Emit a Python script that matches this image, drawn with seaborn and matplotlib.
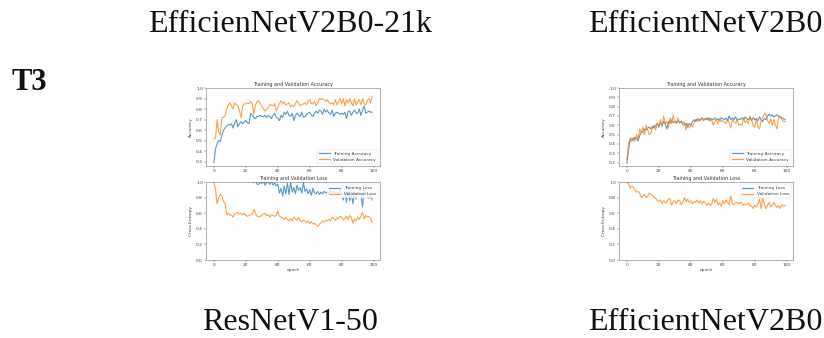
import numpy as np
import pandas as pd
import matplotlib
matplotlib.use("Agg")
import matplotlib.pyplot as plt
import seaborn as sns

# column headers / footers of the comparison table
top_labels = ["EfficienNetV2B0-21k", "EfficientNetV2B0"]
bottom_labels = ["ResNetV1-50", "EfficientNetV2B0"]
row_label = "T3"

epochs = list(range(100))

# left panel (ResNetV1-50)
left_train_acc = [
    0.29, 0.42, 0.47, 0.50, 0.49, 0.55, 0.60, 0.62, 0.64, 0.65,
    0.65, 0.66, 0.62, 0.67, 0.70, 0.63, 0.66, 0.68, 0.66, 0.68,
    0.69, 0.67, 0.66, 0.76, 0.74, 0.72, 0.71, 0.73, 0.73, 0.74,
    0.73, 0.73, 0.74, 0.72, 0.74, 0.73, 0.71, 0.74, 0.76, 0.72,
    0.71, 0.69, 0.74, 0.72, 0.77, 0.75, 0.78, 0.74, 0.73, 0.76,
    0.69, 0.74, 0.76, 0.74, 0.73, 0.77, 0.72, 0.73, 0.75, 0.76,
    0.77, 0.74, 0.73, 0.76, 0.78, 0.76, 0.79, 0.78, 0.75, 0.80,
    0.77, 0.79, 0.76, 0.75, 0.79, 0.73, 0.76, 0.77, 0.76, 0.75,
    0.76, 0.75, 0.77, 0.71, 0.78, 0.78, 0.74, 0.77, 0.79, 0.76,
    0.76, 0.80, 0.74, 0.79, 0.83, 0.76, 0.77, 0.78, 0.77, 0.77,
]
left_val_acc = [
    0.52, 0.52, 0.70, 0.58, 0.55, 0.72, 0.72, 0.74, 0.80, 0.84,
    0.86, 0.83, 0.80, 0.86, 0.84, 0.83, 0.78, 0.72, 0.83, 0.85,
    0.85, 0.86, 0.85, 0.87, 0.85, 0.75, 0.84, 0.87, 0.88, 0.85,
    0.83, 0.80, 0.78, 0.80, 0.81, 0.84, 0.84, 0.83, 0.85, 0.78,
    0.82, 0.85, 0.88, 0.85, 0.87, 0.84, 0.85, 0.86, 0.82, 0.84,
    0.82, 0.85, 0.88, 0.86, 0.83, 0.84, 0.85, 0.86, 0.84, 0.88,
    0.89, 0.85, 0.85, 0.87, 0.83, 0.86, 0.90, 0.89, 0.90, 0.89,
    0.87, 0.89, 0.86, 0.85, 0.86, 0.84, 0.89, 0.84, 0.87, 0.90,
    0.85, 0.90, 0.83, 0.89, 0.86, 0.90, 0.86, 0.83, 0.90, 0.84,
    0.87, 0.89, 0.84, 0.90, 0.85, 0.84, 0.88, 0.90, 0.86, 0.92,
]
left_train_loss = [
    1.60, 1.45, 1.38, 1.32, 1.28, 1.25, 1.22, 1.20, 1.18, 1.16,
    1.15, 1.14, 1.12, 1.12, 1.10, 1.10, 1.09, 1.08, 1.08, 1.07,
    1.06, 1.06, 1.05, 1.03, 1.04, 0.99, 1.02, 0.97, 0.97, 1.00,
    0.98, 1.01, 0.96, 0.99, 1.00, 0.97, 1.01, 0.96, 0.99, 0.95,
    0.97, 0.86, 0.92, 0.82, 0.95, 0.85, 0.99, 0.84, 1.00, 0.87,
    0.93, 0.85, 0.96, 0.89, 0.93, 0.86, 0.99, 0.88, 0.91, 0.85,
    0.90, 0.83, 0.92, 0.86, 0.85, 0.88, 0.84, 0.87, 0.85, 0.88,
    0.86, 0.87, 0.85, 0.89, 0.86, 0.88, 0.85, 0.87, 0.84, 0.90,
    0.86, 0.77, 0.87, 0.74, 0.91, 0.76, 0.86, 0.72, 0.88, 0.78,
    0.86, 0.83, 0.86, 0.68, 0.90, 0.85, 0.82, 0.79, 0.84, 0.77,
]
left_val_loss = [
    1.00, 0.90, 0.72, 0.80, 0.84, 0.82, 0.75, 0.72, 0.58, 0.60,
    0.58, 0.57, 0.55, 0.59, 0.60, 0.61, 0.59, 0.60, 0.58, 0.60,
    0.57, 0.56, 0.57, 0.58, 0.59, 0.65, 0.60, 0.56, 0.55, 0.56,
    0.57, 0.59, 0.60, 0.57, 0.58, 0.55, 0.58, 0.57, 0.56, 0.57,
    0.63, 0.56, 0.55, 0.54, 0.52, 0.54, 0.52, 0.50, 0.53, 0.50,
    0.55, 0.53, 0.51, 0.55, 0.50, 0.49, 0.51, 0.50, 0.48, 0.50,
    0.47, 0.49, 0.46, 0.47, 0.45, 0.43, 0.46, 0.48, 0.50, 0.49,
    0.51, 0.50, 0.52, 0.50, 0.55, 0.53, 0.51, 0.54, 0.53, 0.56,
    0.55, 0.51, 0.53, 0.56, 0.52, 0.57, 0.55, 0.47, 0.53, 0.50,
    0.55, 0.52, 0.57, 0.61, 0.53, 0.57, 0.55, 0.56, 0.54, 0.48,
]

# right panel (EfficientNetV2B0)
right_train_acc = [
    0.19, 0.34, 0.44, 0.46, 0.44, 0.47, 0.46, 0.43, 0.49, 0.52,
    0.53, 0.56, 0.55, 0.57, 0.58, 0.56, 0.59, 0.57, 0.60, 0.62,
    0.58, 0.63, 0.60, 0.64, 0.61, 0.56, 0.64, 0.62, 0.66, 0.63,
    0.64, 0.62, 0.65, 0.63, 0.64, 0.61, 0.60, 0.62, 0.58, 0.62,
    0.60, 0.64, 0.66, 0.64, 0.67, 0.65, 0.66, 0.68, 0.65, 0.67,
    0.66, 0.68, 0.65, 0.67, 0.66, 0.68, 0.66, 0.67, 0.65, 0.68,
    0.67, 0.66, 0.68, 0.65, 0.70, 0.66, 0.68, 0.66, 0.69, 0.65,
    0.67, 0.66, 0.68, 0.66, 0.69, 0.67, 0.66, 0.68, 0.65, 0.68,
    0.66, 0.67, 0.65, 0.69, 0.66, 0.64, 0.67, 0.66, 0.70, 0.72,
    0.70, 0.71, 0.69, 0.70, 0.71, 0.70, 0.69, 0.68, 0.67, 0.66,
]
right_val_acc = [
    0.23, 0.40, 0.46, 0.42, 0.47, 0.43, 0.50, 0.45, 0.56, 0.52,
    0.58, 0.50, 0.60, 0.55, 0.50, 0.52, 0.57, 0.60, 0.55, 0.62,
    0.60, 0.66, 0.58, 0.70, 0.62, 0.64, 0.58, 0.68, 0.62, 0.71,
    0.63, 0.64, 0.68, 0.62, 0.65, 0.62, 0.64, 0.55, 0.62, 0.57,
    0.60, 0.58, 0.62, 0.66, 0.64, 0.67, 0.65, 0.68, 0.66, 0.67,
    0.68, 0.65, 0.68, 0.66, 0.60, 0.64, 0.66, 0.62, 0.67, 0.64,
    0.65, 0.63, 0.62, 0.66, 0.63, 0.57, 0.66, 0.64, 0.62, 0.66,
    0.60, 0.61, 0.60, 0.68, 0.63, 0.65, 0.62, 0.70, 0.66, 0.60,
    0.58, 0.67, 0.58, 0.56, 0.65, 0.68, 0.73, 0.72, 0.65, 0.62,
    0.67, 0.60, 0.66, 0.60, 0.56, 0.70, 0.68, 0.66, 0.64, 0.64,
]
right_train_loss = [
    1.95, 1.80, 1.70, 1.64, 1.60, 1.56, 1.53, 1.50, 1.48, 1.46,
    1.44, 1.42, 1.41, 1.40, 1.39, 1.38, 1.37, 1.36, 1.35, 1.34,
    1.33, 1.33, 1.32, 1.31, 1.31, 1.30, 1.30, 1.29, 1.29, 1.28,
    1.28, 1.27, 1.27, 1.26, 1.26, 1.26, 1.25, 1.25, 1.25, 1.24,
    1.24, 1.24, 1.23, 1.23, 1.23, 1.22, 1.22, 1.22, 1.22, 1.21,
    1.21, 1.21, 1.21, 1.20, 1.20, 1.20, 1.20, 1.20, 1.19, 1.19,
    1.19, 1.19, 1.19, 1.18, 1.18, 1.18, 1.18, 1.18, 1.18, 1.17,
    1.17, 1.17, 1.17, 1.17, 1.17, 1.17, 1.16, 1.16, 1.16, 1.16,
    1.16, 1.16, 1.16, 1.16, 1.15, 1.15, 1.15, 1.15, 1.15, 1.15,
    1.15, 1.15, 1.15, 1.14, 1.14, 1.14, 1.14, 1.14, 1.14, 1.14,
]
right_val_loss = [
    1.00, 0.98, 0.92, 0.95, 0.93, 0.90, 0.87, 0.88, 0.86, 0.80,
    0.82, 0.84, 0.80, 0.82, 0.86, 0.84, 0.83, 0.80, 0.79, 0.76,
    0.75, 0.77, 0.72, 0.76, 0.73, 0.75, 0.78, 0.79, 0.70, 0.74,
    0.76, 0.72, 0.77, 0.76, 0.71, 0.74, 0.80, 0.75, 0.78, 0.74,
    0.76, 0.72, 0.75, 0.74, 0.77, 0.73, 0.76, 0.72, 0.75, 0.74,
    0.70, 0.73, 0.70, 0.71, 0.79, 0.74, 0.78, 0.71, 0.73, 0.69,
    0.76, 0.72, 0.77, 0.74, 0.71, 0.82, 0.72, 0.71, 0.73, 0.74,
    0.72, 0.74, 0.73, 0.70, 0.72, 0.71, 0.73, 0.70, 0.69, 0.66,
    0.70, 0.68, 0.72, 0.78, 0.66, 0.79, 0.72, 0.66, 0.70, 0.74,
    0.68, 0.70, 0.74, 0.70, 0.67, 0.70, 0.66, 0.71, 0.69, 0.70,
]

W, H = 824, 338
FS = 3.2
LW = 0.8
BLUE = "#1f77b4"
ORANGE = "#ff7f0e"


def px_axes(fig, x0, y0, x1, y1):
    """Add axes using pixel box measured from the top-left corner."""
    return fig.add_axes([x0 / W, 1 - y1 / H, (x1 - x0) / W, (y1 - y0) / H])


def style_axes(ax):
    for s in ax.spines.values():
        s.set_linewidth(0.4)
        s.set_color("#777777")
    ax.tick_params(labelsize=FS, width=0.3, length=1.2, pad=1,
                   colors="#555555", labelcolor="#444444")
    ax.set_xticks([0, 20, 40, 60, 80, 100])


def add_legend(ax, loc):
    leg = ax.legend(loc=loc, fontsize=FS, frameon=True, handlelength=2.5,
                    borderpad=0.4, framealpha=0.8, labelcolor="#444444")
    leg.get_frame().set_linewidth(0.3)
    for h in leg.get_lines():
        h.set_linewidth(0.9)


def draw_history(fig, x0, x1, tr_acc, va_acc, tr_loss, va_loss):
    df = pd.DataFrame({"epoch": epochs, "tr_acc": tr_acc, "va_acc": va_acc,
                       "tr_loss": tr_loss, "va_loss": va_loss})

    ax1 = px_axes(fig, x0, 88, x1, 166)
    sns.lineplot(data=df, x="epoch", y="tr_acc", ax=ax1, color=BLUE,
                 lw=LW, alpha=0.75, label="Training Accuracy")
    sns.lineplot(data=df, x="epoch", y="va_acc", ax=ax1, color=ORANGE,
                 lw=LW, alpha=0.75, label="Validation Accuracy")
    ax1.set_ylim(min(ax1.get_ylim()), 1)
    ax1.set_yticks(np.round(np.arange(np.ceil(min(ax1.get_ylim()) * 10) / 10, 1.01, 0.1), 1))
    add_legend(ax1, "lower right")
    ax1.set_title("Training and Validation Accuracy", fontsize=FS + 0.3, pad=1.5,
                  color="#333333")
    ax1.set_ylabel("Accuracy", fontsize=FS, labelpad=2, color="#444444")
    ax1.set_xlabel("")
    style_axes(ax1)

    ax2 = px_axes(fig, x0, 182, x1, 260)
    sns.lineplot(data=df, x="epoch", y="tr_loss", ax=ax2, color=BLUE,
                 lw=LW, alpha=0.75, label="Training Loss")
    sns.lineplot(data=df, x="epoch", y="va_loss", ax=ax2, color=ORANGE,
                 lw=LW, alpha=0.75, label="Validation Loss")
    ax2.set_ylim(0, 1.0)
    ax2.set_yticks([0.0, 0.2, 0.4, 0.6, 0.8, 1.0])
    add_legend(ax2, "upper right")
    ax2.set_title("Training and Validation Loss", fontsize=FS + 0.3, pad=1.5,
                  color="#333333")
    ax2.set_ylabel("Cross Entropy", fontsize=FS, labelpad=2, color="#444444")
    ax2.set_xlabel("epoch", fontsize=FS, labelpad=1, color="#444444")
    style_axes(ax2)


fig = plt.figure(figsize=(W / 100, H / 100), dpi=100)
fig.patch.set_facecolor("white")

serif = ["Liberation Serif", "DejaVu Serif"]
fig.text(290 / W, 1 - 25 / H, top_labels[0], ha="center", va="center",
         fontsize=23, family=serif, color="#111111")
fig.text(705 / W, 1 - 25 / H, top_labels[1], ha="center", va="center",
         fontsize=23, family=serif, color="#111111")
fig.text(290 / W, 1 - 322 / H, bottom_labels[0], ha="center", va="center",
         fontsize=23, family=serif, color="#111111")
fig.text(705 / W, 1 - 322 / H, bottom_labels[1], ha="center", va="center",
         fontsize=23, family=serif, color="#111111")
fig.text(12 / W, 1 - 82 / H, row_label, ha="left", va="center",
         fontsize=22, fontweight="bold", family=serif, color="#111111")

draw_history(fig, 206, 380, left_train_acc, left_val_acc, left_train_loss, left_val_loss)
draw_history(fig, 619, 793, right_train_acc, right_val_acc, right_train_loss, right_val_loss)

fig.savefig("out.png", dpi=100)
